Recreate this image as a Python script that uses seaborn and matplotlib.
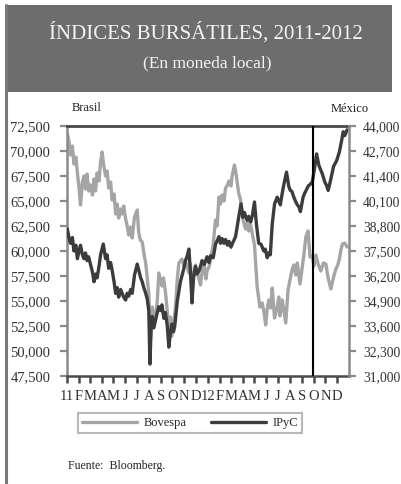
import matplotlib
matplotlib.use("Agg")
import matplotlib.pyplot as plt
from matplotlib.patches import Rectangle
from matplotlib.lines import Line2D
import seaborn as sns
import pandas as pd

# ---------------- data ----------------
bovespa_dates = [
    "2011-01-02", "2011-01-06", "2011-01-10", "2011-01-15", "2011-01-19", "2011-01-24",
    "2011-01-28", "2011-02-02", "2011-02-05", "2011-02-10", "2011-02-14", "2011-02-18",
    "2011-02-22", "2011-02-26", "2011-03-03", "2011-03-08", "2011-03-12", "2011-03-16",
    "2011-03-20", "2011-03-25", "2011-03-29", "2011-04-02", "2011-04-06", "2011-04-11",
    "2011-04-15", "2011-04-19", "2011-04-24", "2011-04-28", "2011-05-03", "2011-05-07",
    "2011-05-11", "2011-05-15", "2011-05-20", "2011-05-24", "2011-05-28", "2011-06-02",
    "2011-06-06", "2011-06-10", "2011-06-15", "2011-06-19", "2011-06-25", "2011-07-02",
    "2011-07-06", "2011-07-10", "2011-07-15", "2011-07-20", "2011-07-24", "2011-08-01",
    "2011-08-05", "2011-08-10", "2011-08-14", "2011-08-18", "2011-08-23", "2011-08-27",
    "2011-09-04", "2011-09-08", "2011-09-13", "2011-09-18", "2011-09-22", "2011-09-26",
    "2011-09-30", "2011-10-09", "2011-10-14", "2011-10-18", "2011-10-26", "2011-11-01",
    "2011-11-04", "2011-11-13", "2011-11-17", "2011-11-21", "2011-11-30", "2011-12-06",
    "2011-12-13", "2011-12-17", "2011-12-22", "2011-12-27", "2011-12-30", "2012-01-04",
    "2012-01-08", "2012-01-15", "2012-01-21", "2012-01-25", "2012-01-30", "2012-02-03",
    "2012-02-07", "2012-02-12", "2012-02-16", "2012-02-21", "2012-02-25", "2012-03-01",
    "2012-03-04", "2012-03-10", "2012-03-14", "2012-03-17", "2012-03-21", "2012-03-26",
    "2012-04-01", "2012-04-08", "2012-04-12", "2012-04-16", "2012-04-21", "2012-04-25",
    "2012-05-01", "2012-05-08", "2012-05-12", "2012-05-15", "2012-05-21", "2012-05-26",
    "2012-05-30", "2012-06-03", "2012-06-07", "2012-06-12", "2012-06-16", "2012-06-22",
    "2012-06-29", "2012-07-03", "2012-07-06", "2012-07-12", "2012-07-17", "2012-07-21",
    "2012-07-27", "2012-08-03", "2012-08-07", "2012-08-11", "2012-08-16", "2012-08-20",
    "2012-08-27", "2012-09-02", "2012-09-06", "2012-09-11", "2012-09-17", "2012-09-22",
    "2012-09-28", "2012-10-02", "2012-10-07", "2012-10-13", "2012-10-20", "2012-10-27",
    "2012-11-02", "2012-11-08", "2012-11-15", "2012-11-22", "2012-11-28", "2012-12-03",
    "2012-12-07", "2012-12-11", "2012-12-15", "2012-12-21", "2012-12-27",
]
bovespa_values = [
    71700, 71000, 69600, 70500, 68700, 69400,
    67800, 66000, 64600, 66900, 67500, 66200,
    67700, 66000, 66600, 65600, 67200, 66000,
    67800, 67000, 68900, 69900, 68600, 67500,
    68000, 66300, 66900, 65100, 65700, 63700,
    64700, 63300, 64200, 63700, 64500, 63200,
    62500, 61600, 62400, 61300, 63400, 64100,
    61800, 61100, 60900, 59600, 58800, 55800,
    50800, 54400, 53000, 53300, 55000, 57800,
    56500, 57300, 56000, 54000, 52300, 53400,
    51500, 54300, 57200, 58800, 59200, 58400,
    59000, 57800, 58700, 56500, 58600, 57700,
    56600, 57800, 58900, 57200, 58000, 58400,
    59100, 60700, 63100, 62500, 65400, 64700,
    65600, 65000, 66300, 66600, 67000, 66500,
    67500, 68600, 67800, 66900, 65800, 65100,
    63100, 62200, 62900, 62000, 62600, 61800,
    60600, 56400, 55300, 54400, 54800, 53800,
    52600, 54200, 55100, 54300, 56300, 53300,
    54400, 55400, 53500, 55100, 53800, 52800,
    56100, 57500, 58200, 58600, 57600, 58800,
    56700, 58400, 59600, 61400, 62000, 59400,
    59500, 58500, 59600, 58700, 58000, 58800,
    58700, 57300, 56200, 57400, 58200, 58600,
    59200, 60100, 60700, 60800, 60400,
]

ipyc_dates = [
    "2011-01-02", "2011-01-06", "2011-01-10", "2011-01-15", "2011-01-19", "2011-01-24",
    "2011-01-28", "2011-02-01", "2011-02-05", "2011-02-10", "2011-02-14", "2011-02-18",
    "2011-02-22", "2011-02-26", "2011-03-03", "2011-03-08", "2011-03-12", "2011-03-16",
    "2011-03-20", "2011-03-25", "2011-03-29", "2011-04-05", "2011-04-11", "2011-04-15",
    "2011-04-19", "2011-04-24", "2011-04-28", "2011-05-03", "2011-05-07", "2011-05-11",
    "2011-05-15", "2011-05-20", "2011-05-24", "2011-05-28", "2011-06-02", "2011-06-06",
    "2011-06-10", "2011-06-15", "2011-06-19", "2011-06-25", "2011-07-02", "2011-07-06",
    "2011-07-11", "2011-07-15", "2011-07-19", "2011-07-24", "2011-07-28", "2011-08-01",
    "2011-08-04", "2011-08-07", "2011-08-10", "2011-08-14", "2011-08-18", "2011-08-23",
    "2011-08-27", "2011-09-01", "2011-09-04", "2011-09-09", "2011-09-13", "2011-09-18",
    "2011-09-22", "2011-09-26", "2011-09-30", "2011-10-04", "2011-10-07", "2011-10-14",
    "2011-10-18", "2011-10-22", "2011-10-27", "2011-10-31", "2011-11-04", "2011-11-08",
    "2011-11-13", "2011-11-17", "2011-11-21", "2011-11-25", "2011-11-30", "2011-12-04",
    "2011-12-09", "2011-12-13", "2011-12-17", "2011-12-23", "2011-12-30", "2012-01-04",
    "2012-01-08", "2012-01-15", "2012-01-21", "2012-01-30", "2012-02-03", "2012-02-07",
    "2012-02-12", "2012-02-16", "2012-02-21", "2012-02-25", "2012-03-01", "2012-03-04",
    "2012-03-13", "2012-03-21", "2012-03-27", "2012-04-01", "2012-04-05", "2012-04-08",
    "2012-04-12", "2012-04-16", "2012-04-21", "2012-04-25", "2012-05-01", "2012-05-06",
    "2012-05-12", "2012-05-18", "2012-05-25", "2012-05-29", "2012-06-03", "2012-06-07",
    "2012-06-11", "2012-06-16", "2012-06-22", "2012-06-29", "2012-07-03", "2012-07-07",
    "2012-07-11", "2012-07-16", "2012-07-23", "2012-07-29", "2012-08-02", "2012-08-06",
    "2012-08-11", "2012-08-15", "2012-08-20", "2012-08-24", "2012-08-28", "2012-09-04",
    "2012-09-08", "2012-09-13", "2012-09-18", "2012-09-22", "2012-09-28", "2012-10-04",
    "2012-10-09", "2012-10-15", "2012-10-20", "2012-10-24", "2012-10-30", "2012-11-04",
    "2012-11-08", "2012-11-15", "2012-11-22", "2012-11-30", "2012-12-07", "2012-12-12",
    "2012-12-17", "2012-12-21", "2012-12-27",
]
ipyc_values = [
    38640, 38200, 37900, 38200, 37500, 37800,
    37100, 37500, 37800, 37300, 37100, 37400,
    37000, 37200, 36800, 36400, 35900, 36300,
    36100, 36700, 37300, 37860, 37100, 37300,
    36600, 36900, 36500, 35900, 35300, 35600,
    35100, 35500, 35300, 35100, 34950, 35300,
    35150, 35500, 35300, 36250, 36820, 36500,
    36100, 35900, 35600, 35300, 35000, 34400,
    31620, 33500, 34100, 33500, 33850, 34300,
    34600, 34400, 34700, 34000, 34300, 33600,
    32500, 33200, 33700, 33300, 33550, 34900,
    35400, 35900, 36300, 36600, 37000, 37200,
    37600, 36400, 34800, 36100, 36700, 36300,
    36450, 36700, 37000, 36800, 37200, 36900,
    37250, 37150, 37850, 38250, 37900, 38150,
    37900, 38100, 37800, 38000, 37700, 37850,
    38250, 39250, 39950, 39250, 39500, 39300,
    39100, 39300, 39000, 39300, 40050, 38900,
    37900, 37850, 37500, 37600, 37150, 37400,
    37300, 38900, 39950, 40300, 40100, 39900,
    40400, 40950, 41600, 40850, 40650, 40600,
    40300, 40100, 39900, 39800, 39550, 40300,
    40500, 40700, 40900, 40950, 41100, 41850,
    42550, 41950, 41700, 41500, 41100, 40900,
    40650, 41250, 41900, 42200, 42650, 43150,
    43700, 43500, 43800,
]

left_ticks = [47500, 50000, 52500, 55000, 57500, 60000, 62500, 65000, 67500, 70000, 72500]
right_ticks = [31000, 32300, 33600, 34900, 36200, 37500, 38800, 40100, 41400, 42700, 44000]
month_labels = ["11", "F", "M", "A", "M", "J", "J", "A", "S", "O", "N", "D",
                "12", "F", "M", "A", "M", "J", "J", "A", "S", "O", "N", "D"]
series_names = ["Bovespa", "IPyC"]
marker_date = "2012-09-29"

title_1 = "ÍNDICES BURSÁTILES, 2011-2012"
title_2 = "(En moneda local)"
source_text = "Fuente:  Bloomberg."

# ---------------- style ----------------
sns.set_style("white")
plt.rcParams["font.family"] = ["Liberation Serif", "DejaVu Serif"]

W, H = 401, 484
fig = plt.figure(figsize=(W / 100, H / 100), dpi=100)

# title banner
fig.patches.append(Rectangle((5 / W, 1 - 92 / H), (392 - 5) / W, (92 - 5) / H,
                             transform=fig.transFigure, facecolor="#6d6d6d",
                             edgecolor="none", zorder=0))
fig.lines.append(Line2D([5.5 / W, 5.5 / W], [0, 1 - 5 / H], transform=fig.transFigure,
                        color="#7a7a7a", lw=2.2))
fig.text(206 / W, 1 - 33 / H, title_1, color="#f4f4f4", fontsize=15,
         ha="center", va="center")
fig.text(207 / W, 1 - 63 / H, title_2, color="#f4f4f4", fontsize=12.5,
         ha="center", va="center")

ax = fig.add_axes([67 / W, (H - 376) / H, (349 - 67) / W, (376 - 126) / H])
ax2 = ax.twinx()

df_b = pd.DataFrame({"fecha": pd.to_datetime(bovespa_dates), "valor": bovespa_values})
df_i = pd.DataFrame({"fecha": pd.to_datetime(ipyc_dates), "valor": ipyc_values})

sns.lineplot(data=df_b, x="fecha", y="valor", ax=ax, color="#a5a5a5", lw=2.4,
             label=series_names[0], legend=False)
sns.lineplot(data=df_i, x="fecha", y="valor", ax=ax2, color="#3c3c3c", lw=2.4,
             label=series_names[1], legend=False)
ax2.axvline(pd.Timestamp(marker_date), color="#000000", lw=1.5, zorder=5)

ax.set_xlim(pd.Timestamp("2011-01-01"), pd.Timestamp("2013-01-01"))
ax.set_ylim(left_ticks[0], left_ticks[-1])
ax2.set_ylim(right_ticks[0], right_ticks[-1])
ax.set_yticks(left_ticks)
ax.set_yticklabels([f"{v:,}" for v in left_ticks])
ax2.set_yticks(right_ticks)
ax2.set_yticklabels([f"{v:,}" for v in right_ticks])

month_ticks = pd.date_range("2011-01-01", "2012-12-01", freq="MS")
ax.set_xticks(month_ticks)
ax.set_xticklabels(month_labels)
ax.set_xlabel("")
ax.set_ylabel("")
ax2.set_ylabel("")

for a in (ax, ax2):
    for s in a.spines.values():
        s.set_visible(False)
ax.spines["left"].set_visible(True)
ax.spines["left"].set_color("#8a8a8a")
ax.spines["left"].set_linewidth(1.8)
ax.spines["bottom"].set_visible(True)
ax.spines["bottom"].set_color("#4a4a4a")
ax.spines["bottom"].set_linewidth(1.8)
ax.spines["top"].set_visible(True)
ax.spines["top"].set_color("#484848")
ax.spines["top"].set_linewidth(2.0)
ax2.spines["right"].set_visible(True)
ax2.spines["right"].set_color("#8a8a8a")
ax2.spines["right"].set_linewidth(1.8)

ax.tick_params(axis="y", left=True, direction="out", length=5, width=1.6,
               color="#8a8a8a", pad=7, labelsize=10.5, labelcolor="#333333")
ax.tick_params(axis="x", bottom=True, direction="out", length=5, width=1.8,
               color="#4a4a4a", pad=5, labelsize=10.5, labelcolor="#333333")
ax2.tick_params(axis="y", right=True, direction="out", length=5, width=1.6,
                color="#8a8a8a", pad=5, labelsize=9.8, labelcolor="#333333")

fig.text(72 / W, 1 - 108 / H, "Brasil", fontsize=9, color="#222222", va="center")
fig.text(331 / W, 1 - 109 / H, "México", fontsize=9, color="#222222", va="center")

h1 = ax.get_lines()[0]
h2 = ax2.get_lines()[0]
leg = fig.legend([h1, h2], series_names, ncol=2, loc="center",
                 bbox_to_anchor=(190 / W, 1 - 423 / H), frameon=True, fancybox=False,
                 fontsize=9, handlelength=4.4, handletextpad=0.5, columnspacing=2.0,
                 borderpad=0.3, borderaxespad=0, edgecolor="#a8a8a8")
leg.get_frame().set_linewidth(1.5)

fig.text(68 / W, 1 - 466 / H, source_text, fontsize=8.5, color="#222222", va="center")

fig.savefig("out.png", dpi=100)
